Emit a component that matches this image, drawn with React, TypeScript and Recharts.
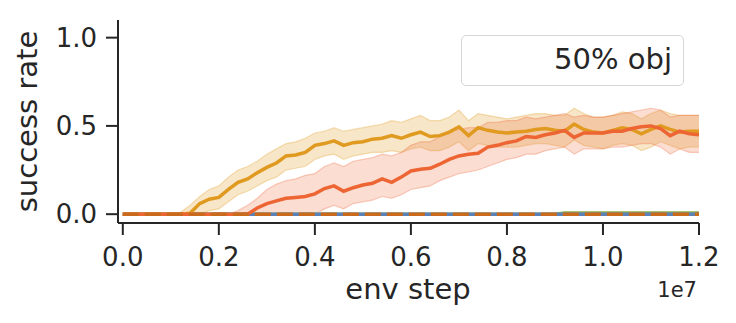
import { Area, ComposedChart, Label, Line, XAxis, YAxis } from "recharts";

// env step, sampled every 2e5
const envSteps = [
  0, 200000, 400000, 600000, 800000, 1000000, 1200000, 1400000, 1600000, 1800000,
  2000000, 2200000, 2400000, 2600000, 2800000, 3000000, 3200000, 3400000, 3600000, 3800000,
  4000000, 4200000, 4400000, 4600000, 4800000, 5000000, 5200000, 5400000, 5600000, 5800000,
  6000000, 6200000, 6400000, 6600000, 6800000, 7000000, 7200000, 7400000, 7600000, 7800000,
  8000000, 8200000, 8400000, 8600000, 8800000, 9000000, 9200000, 9400000, 9600000, 9800000,
  10000000, 10200000, 10400000, 10600000, 10800000, 11000000, 11200000, 11400000, 11600000, 11800000,
  12000000,
];

const goldMean = [
  0, 0, 0, 0, 0, 0, 0, 0.005, 0.06, 0.085,
  0.095, 0.14, 0.18, 0.2, 0.235, 0.265, 0.29, 0.33, 0.335, 0.35,
  0.39, 0.4, 0.415, 0.39, 0.405, 0.41, 0.425, 0.43, 0.445, 0.43,
  0.45, 0.465, 0.44, 0.445, 0.465, 0.495, 0.445, 0.49, 0.475, 0.465,
  0.46, 0.465, 0.47, 0.48, 0.485, 0.475, 0.47, 0.51, 0.48, 0.465,
  0.46, 0.475, 0.49, 0.48, 0.455, 0.48, 0.5, 0.48, 0.465, 0.47,
  0.47,
];
const goldLow = [
  0, 0, 0, 0, 0, 0, 0, 0, 0, 0.02,
  0.03, 0.07, 0.11, 0.13, 0.16, 0.19, 0.21, 0.25, 0.26, 0.27,
  0.31, 0.33, 0.34, 0.31, 0.33, 0.34, 0.35, 0.35, 0.36, 0.35,
  0.37, 0.38, 0.36, 0.36, 0.38, 0.41, 0.36, 0.4, 0.39, 0.38,
  0.38, 0.38, 0.39, 0.4, 0.4, 0.39, 0.38, 0.42, 0.39, 0.38,
  0.37, 0.39, 0.4, 0.39, 0.36, 0.38, 0.41, 0.39, 0.37, 0.38,
  0.38,
];
const goldHigh = [
  0, 0, 0, 0, 0, 0, 0.01, 0.05, 0.1, 0.14,
  0.16, 0.21, 0.25, 0.27, 0.3, 0.34, 0.37, 0.4, 0.41, 0.43,
  0.46, 0.47, 0.49, 0.47, 0.48, 0.49, 0.5, 0.51, 0.53, 0.52,
  0.54, 0.56, 0.53, 0.53, 0.55, 0.59, 0.53, 0.57, 0.56, 0.55,
  0.54, 0.55, 0.56, 0.57, 0.57, 0.56, 0.56, 0.6, 0.57, 0.55,
  0.55, 0.56, 0.58, 0.57, 0.54, 0.57, 0.59, 0.57, 0.56, 0.56,
  0.56,
];

const redMean = [
  0, 0, 0, 0, 0, 0, 0, 0, 0, 0,
  0, 0, 0, 0, 0.035, 0.06, 0.075, 0.09, 0.095, 0.1,
  0.115, 0.145, 0.16, 0.13, 0.15, 0.165, 0.175, 0.2, 0.18, 0.21,
  0.245, 0.255, 0.26, 0.283, 0.31, 0.33, 0.34, 0.345, 0.38, 0.39,
  0.405, 0.415, 0.44, 0.435, 0.45, 0.46, 0.475, 0.435, 0.46, 0.46,
  0.46, 0.47, 0.47, 0.485, 0.495, 0.5, 0.485, 0.445, 0.47, 0.455,
  0.45,
];
const redLow = [
  0, 0, 0, 0, 0, 0, 0, 0, 0, 0,
  0, 0, 0, 0, 0, 0, 0, 0, 0, 0,
  0, 0.03, 0.05, 0.03, 0.06, 0.07, 0.08, 0.1, 0.09, 0.11,
  0.14, 0.15, 0.16, 0.19, 0.21, 0.23, 0.24, 0.25, 0.27, 0.29,
  0.31, 0.32, 0.34, 0.34, 0.36, 0.37, 0.38, 0.34, 0.37, 0.37,
  0.37, 0.38, 0.38, 0.39, 0.4, 0.4, 0.38, 0.34, 0.37, 0.35,
  0.35,
];
const redHigh = [
  0, 0, 0, 0, 0, 0, 0, 0, 0, 0,
  0, 0, 0.02, 0.05, 0.09, 0.14, 0.17, 0.19, 0.2, 0.22,
  0.23, 0.27, 0.29, 0.27, 0.3, 0.31, 0.32, 0.34, 0.33, 0.35,
  0.39, 0.41, 0.41, 0.44, 0.47, 0.48, 0.49, 0.49, 0.52, 0.52,
  0.53, 0.53, 0.55, 0.54, 0.55, 0.56, 0.57, 0.55, 0.56, 0.55,
  0.55, 0.56, 0.57, 0.58, 0.59, 0.6, 0.59, 0.55, 0.56, 0.56,
  0.56,
];

const blueMean = [
  0, 0, 0, 0, 0, 0, 0, 0, 0, 0,
  0, 0, 0, 0, 0, 0, 0, 0, 0, 0,
  0, 0, 0, 0, 0, 0, 0, 0, 0, 0,
  0, 0, 0, 0, 0, 0, 0, 0, 0, 0,
  0, 0, 0, 0, 0, 0, 0, 0, 0, 0,
  0, 0, 0, 0, 0, 0, 0, 0, 0, 0,
  0,
];
const greenMean = [
  0, 0, 0, 0, 0, 0, 0, 0, 0, 0,
  0, 0, 0, 0, 0, 0, 0, 0, 0, 0,
  0, 0, 0, 0, 0, 0, 0, 0, 0, 0,
  0, 0, 0, 0, 0, 0, 0, 0, 0, 0,
  0, 0, 0, 0, 0, 0, 0.006, 0.006, 0.006, 0.006,
  0.006, 0.006, 0.006, 0.006, 0.006, 0.006, 0.006, 0.006, 0.006, 0.006,
  0.006,
];
const dashedMean = [
  0, 0, 0, 0, 0, 0, 0, 0, 0, 0,
  0, 0, 0, 0, 0, 0, 0, 0, 0, 0,
  0, 0, 0, 0, 0, 0, 0, 0, 0, 0,
  0, 0, 0, 0, 0, 0, 0, 0, 0, 0,
  0, 0, 0, 0, 0, 0, 0, 0, 0, 0,
  0, 0, 0, 0, 0, 0, 0, 0, 0, 0,
  0,
];

const xTicks = [0, 2000000, 4000000, 6000000, 8000000, 10000000, 12000000];
const yTicks = [0, 0.5, 1.0];
const legendLabel = "50% obj";

const FONT = "'DejaVu Sans', sans-serif";
const INK = "#262626";
const GOLD = "#e09a20";
const RED = "#ee6534";

const data = envSteps.map((x, i) => ({
  x,
  gold: goldMean[i],
  goldBand: [goldLow[i], goldHigh[i]],
  red: redMean[i],
  redBand: [redLow[i], redHigh[i]],
  blue: blueMean[i],
  green: greenMean[i],
  dashed: dashedMean[i],
}));

function LegendBox() {
  return (
    <div
      style={{
        position: "absolute",
        left: 461,
        top: 35,
        boxSizing: "border-box",
        width: 223,
        height: 51,
        border: "1.5px solid #d6d6d6",
        borderRadius: 5,
        background: "#fff",
        fontFamily: FONT,
        fontSize: 29,
        color: INK,
        textAlign: "right",
        paddingRight: 11,
        lineHeight: "47px",
      }}
    >
      {legendLabel}
    </div>
  );
}

export default function App() {
  return (
    <div style={{ position: "absolute", left: 0, top: 0, width: 736, height: 323, background: "#fff" }}>
      <ComposedChart width={736} height={323} data={data} margin={{ top: 20, right: 37, bottom: 0, left: 0 }}>
        <XAxis
          dataKey="x"
          type="number"
          domain={[-100000, 12000000]}
          ticks={xTicks}
          tickFormatter={(v: number) => (v / 1e7).toFixed(1)}
          height={100}
          tickSize={12}
          tickMargin={13}
          tick={{ fill: INK, fontSize: 26, fontFamily: FONT }}
          tickLine={{ stroke: INK, strokeWidth: 2 }}
          axisLine={{ stroke: INK, strokeWidth: 2 }}
        >
          <Label
            content={() => (
              <text x={408} y={299} textAnchor="middle" fill={INK} fontSize={29} fontFamily={FONT}>
                env step
              </text>
            )}
          />
          <Label
            content={() => (
              <text x={697} y={297} textAnchor="end" fill={INK} fontSize={21} fontFamily={FONT}>
                1e7
              </text>
            )}
          />
        </XAxis>
        <YAxis
          type="number"
          domain={[-0.05, 1.1]}
          ticks={yTicks}
          tickFormatter={(v: number) => v.toFixed(1)}
          width={118}
          tickSize={12}
          tickMargin={9}
          tick={{ fill: INK, fontSize: 26, fontFamily: FONT }}
          tickLine={{ stroke: INK, strokeWidth: 2 }}
          axisLine={{ stroke: INK, strokeWidth: 2 }}
        >
          <Label
            content={() => (
              <text
                transform="translate(37,121.5) rotate(-90)"
                textAnchor="middle"
                fill={INK}
                fontSize={29}
                fontFamily={FONT}
              >
                success rate
              </text>
            )}
          />
        </YAxis>
        <Area
          dataKey="goldBand"
          type="linear"
          fill={GOLD}
          fillOpacity={0.25}
          stroke={GOLD}
          strokeOpacity={0.3}
          strokeWidth={1.2}
          isAnimationActive={false}
        />
        <Area
          dataKey="redBand"
          type="linear"
          fill={RED}
          fillOpacity={0.22}
          stroke={RED}
          strokeOpacity={0.3}
          strokeWidth={1.2}
          isAnimationActive={false}
        />
        <Line dataKey="green" type="linear" stroke="#8cb04e" strokeWidth={3.5} dot={false} isAnimationActive={false} />
        <Line dataKey="blue" type="linear" stroke="#5a82b8" strokeWidth={3.5} dot={false} isAnimationActive={false} />
        <Line dataKey="gold" type="linear" stroke={GOLD} strokeWidth={3.5} dot={false} isAnimationActive={false} />
        <Line dataKey="red" type="linear" stroke={RED} strokeWidth={3.5} dot={false} isAnimationActive={false} />
        <Line
          dataKey="dashed"
          type="linear"
          stroke="#c96a1d"
          strokeWidth={3.5}
          strokeDasharray="16 6"
          dot={false}
          isAnimationActive={false}
        />
      </ComposedChart>
      <LegendBox />
    </div>
  );
}
